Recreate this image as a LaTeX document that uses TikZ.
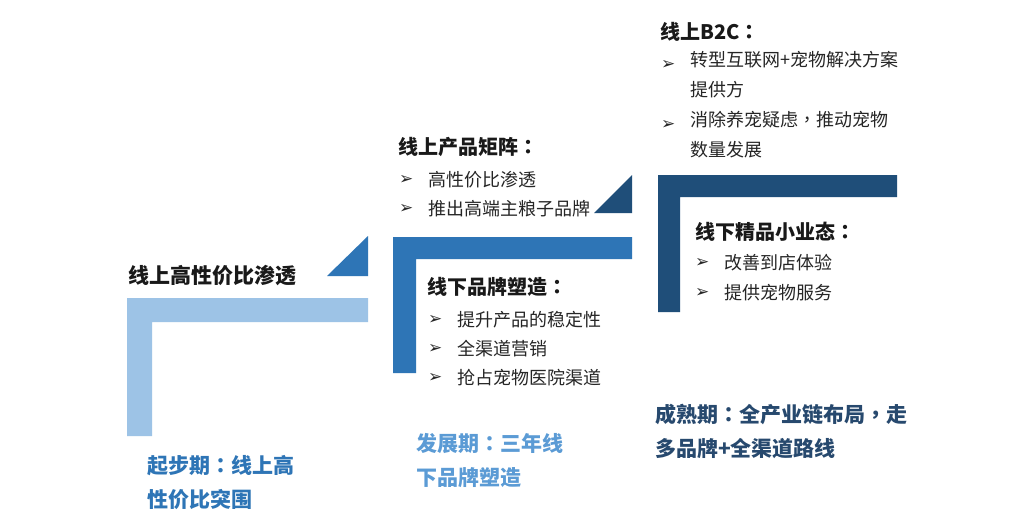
\documentclass[tikz,border=0pt]{standalone}
\usepackage{fontspec}
\setmainfont{Noto Sans CJK SC}
\newfontfamily\symfont{DejaVu Sans}
\newfontfamily\tcfont{Noto Sans CJK TC}
\newcommand{\cc}{{\tcfont ：}}
\newcommand{\cm}{{\tcfont ，}}
\definecolor{lightblue}{HTML}{9DC3E6}
\definecolor{midblue}{HTML}{2E75B6}
\definecolor{darkblue}{HTML}{1F4E79}
\definecolor{stageblue}{HTML}{5B9BD5}
\definecolor{darkstage}{HTML}{27496E}
\begin{document}
\begin{tikzpicture}[x=1pt,y=-1pt,
  title/.style={anchor=west,inner sep=0pt,font=\fontsize{20}{24}\selectfont\bfseries,text=black!90},
  bul/.style={anchor=west,inner sep=0pt,font=\symfont\fontsize{17}{18}\selectfont,text=black!85},
  item/.style={anchor=west,inner sep=0pt,font=\fontsize{18}{30}\selectfont,text=black!85,align=left},
  stage/.style={anchor=north west,inner sep=0pt,font=\fontsize{21}{34}\selectfont\bfseries,align=left}]
\useasboundingbox (0,0) rectangle (1036,519);
\fill[white] (0,0) rectangle (1036,519);
% L shapes and triangles
\fill[lightblue] (127,298) -- (368,298) -- (368,322) -- (152,322) -- (152,436) -- (127,436) -- cycle;
\fill[midblue] (368,236) -- (368,276) -- (327,276) -- cycle;
\fill[midblue] (393,237) -- (632,237) -- (632,259) -- (416,259) -- (416,373) -- (393,373) -- cycle;
\fill[darkblue] (632,175) -- (632,213) -- (594,213) -- cycle;
\fill[darkblue] (658,175) -- (897,175) -- (897,197) -- (680,197) -- (680,312) -- (658,312) -- cycle;
% stage 1
\node[title,font=\fontsize{21}{24}\selectfont\bfseries] (t1) at (128,276) {线上高性价比渗透};
\node[stage,text=midblue] (s1) at (147,455) {起步期\cc 线上高\\性价比突围};
% stage 2
\node[title] (t2) at (398,147) {线上产品矩阵\cc};
\node[bul] (b2a) at (399,180) {➢};
\node[item] (i2a) at (428,180) {高性价比渗透};
\node[bul] (b2b) at (399,209) {➢};
\node[item] (i2b) at (428,209) {推出高端主粮子品牌};
\node[title] (t3) at (427,287) {线下品牌塑造\cc};
\node[bul] (b3a) at (428,320) {➢};
\node[item] (i3a) at (457,320) {提升产品的稳定性};
\node[bul] (b3b) at (428,349) {➢};
\node[item] (i3b) at (457,349) {全渠道营销};
\node[bul] (b3c) at (428,378) {➢};
\node[item] (i3c) at (457,378) {抢占宠物医院渠道};
\node[stage,text=stageblue] (s2) at (416,433) {发展期\cc 三年线\\下品牌塑造};
% stage 3
\node[title] (t4) at (660,32) {线上B2C\cc};
\node[bul] (b4a) at (661,65) {➢};
\node[item,anchor=north west] (i4a) at (690,51) {转型互联网+宠物解决方案\\提供方};
\node[bul] (b4b) at (661,125) {➢};
\node[item,anchor=north west] (i4b) at (690,111) {消除养宠疑虑\cm 推动宠物\\数量发展};
\node[title] (t5) at (695,232) {线下精品小业态\cc};
\node[bul] (b5a) at (695,263) {➢};
\node[item] (i5a) at (724,263) {改善到店体验};
\node[bul] (b5b) at (695,293) {➢};
\node[item] (i5b) at (724,293) {提供宠物服务};
\node[stage,text=darkstage] (s3) at (655,404) {成熟期\cc 全产业链布局\cm 走\\多品牌+全渠道路线};
\end{tikzpicture}
\end{document}
